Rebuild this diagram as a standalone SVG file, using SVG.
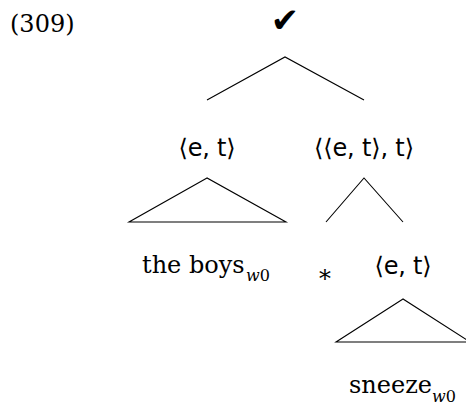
<svg xmlns="http://www.w3.org/2000/svg" width="466" height="407" viewBox="0 0 466 407">
<style>
.serif{font-family:"DejaVu Serif","Liberation Serif",serif;font-size:24px;fill:#000}
.sub{font-family:"DejaVu Serif","Liberation Serif",serif;font-size:16px;fill:#000}
.sans{font-family:"DejaVu Sans","Open Sans",sans-serif;font-size:24px;fill:#000;text-anchor:middle}
.edge{stroke:#000;stroke-width:1.1;fill:none}
</style>
<rect width="466" height="407" fill="#fff"/>
<g id="label"><text class="serif" x="10" y="32">(309)</text></g>
<g id="root"><text x="285" y="32" font-family="DejaVu Sans,sans-serif" font-size="34" text-anchor="middle">✔</text></g>
<g id="et1"><text class="sans" x="207" y="156" textLength="57">⟨e, t⟩</text></g>
<g id="etet"><text class="sans" x="364" y="156" textLength="100">⟨⟨e, t⟩, t⟩</text></g>
<g id="theboys"><text class="serif" x="142" y="273">the boys</text><text class="sub" x="246" y="281"><tspan font-style="italic">w</tspan>0</text></g>
<g id="star"><text class="serif" x="325" y="282" font-size="36" text-anchor="middle">∗</text></g>
<g id="et2"><text class="sans" x="403" y="274" textLength="57">⟨e, t⟩</text></g>
<g id="sneeze"><text class="serif" x="349" y="393">sneeze</text><text class="sub" x="432" y="402"><tspan font-style="italic">w</tspan>0</text></g>
<g id="connectors">
<polyline class="edge" points="207,100 285,57 364,100"/>
<polygon class="edge" points="207,178 129,222 286,222"/>
<polyline class="edge" points="326,222 364,178 403,222"/>
<polygon class="edge" points="403,299 336,342 470,342"/>
</g>
</svg>
